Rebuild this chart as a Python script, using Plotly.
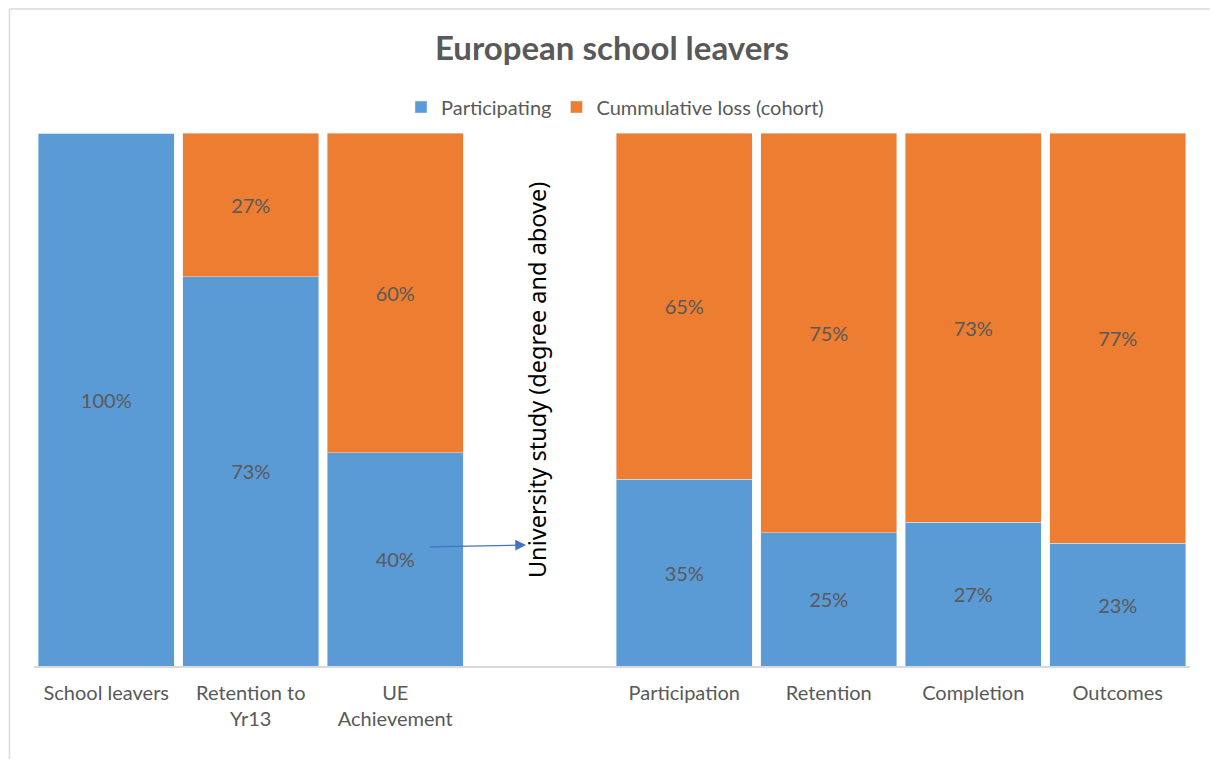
import plotly.graph_objects as go

categories = ["School leavers", "Retention to<br>Yr13", "UE<br>Achievement", "",
              "Participation", "Retention", "Completion", "Outcomes"]
participating = [100, 73, 40, None, 35, 25, 27, 23]
cumulative_loss = [0, 27, 60, None, 65, 75, 73, 77]

xpos = list(range(len(categories)))

def labels(vals):
    return [("" if (v is None or v == 0) else f"{v}%") for v in vals]

BLUE = "#5B9BD5"
ORANGE = "#ED7D31"
GRAY = "#595959"
FONT = "Lato"
FS = 20

OFF = 8  # page body margin offset
W, H = 1218 - 2 * OFF, 767 - 2 * OFF
# screenshot pixel geometry of the plot area
SL, SR, ST, SB = 33.5, 1190.5, 133, 666
L = SL - OFF
R = W - (SR - OFF)
T = ST - OFF
B = H - (SB - OFF)
pw, ph = W - L - R, H - T - B

def px_x(px):
    return (px - OFF - L) / pw

def px_y(py):
    return (H - B - (py - OFF)) / ph

def dx(px):
    return px_x(px) * 8 - 0.5

def dy(py):
    return px_y(py) * 100

fig = go.Figure()
fig.add_trace(go.Bar(
    x=xpos, y=participating, name="Participating", marker_color=BLUE,
    text=labels(participating), textposition="inside", insidetextanchor="middle",
    textfont=dict(color=GRAY, size=FS, family=FONT), textangle=0,
))
fig.add_trace(go.Bar(
    x=xpos, y=cumulative_loss, name="Cummulative loss (cohort)", marker_color=ORANGE,
    text=labels(cumulative_loss), textposition="inside", insidetextanchor="middle",
    textfont=dict(color=GRAY, size=FS, family=FONT), textangle=0,
))

fig.update_layout(
    width=W, height=H,
    barmode="stack", bargap=0.062,
    plot_bgcolor="white", paper_bgcolor="white",
    margin=dict(l=L, r=R, t=T, b=B, autoexpand=False),
    font=dict(family=FONT, color=GRAY, size=FS),
    title=dict(text="<b>European school leavers</b>", x=px_x(612), xref="paper", xanchor="center",
               y=1 - (48 - OFF) / H, yref="container", yanchor="middle",
               font=dict(size=33, color=GRAY, family=FONT)),
    legend=dict(orientation="h", x=px_x(615), xanchor="center", y=px_y(107), yanchor="middle",
                font=dict(size=FS, color=GRAY, family=FONT), itemwidth=30,
                traceorder="normal"),
    xaxis=dict(tickmode="array", tickvals=xpos, ticktext=categories, range=[-0.5, 7.5],
               showline=True, linecolor="#D9D9D9", linewidth=2, showgrid=False,
               ticks="", ticklabelstandoff=8,
               tickfont=dict(size=FS, color=GRAY, family=FONT), zeroline=False),
    yaxis=dict(range=[0, 100], visible=False),
    uniformtext=dict(minsize=FS, mode="show"),
)

# chart-area border (top and left edges visible in the reference)
fig.add_shape(type="line", xref="paper", yref="paper",
              x0=px_x(OFF + 1), y0=px_y(OFF + 1), x1=px_x(OFF + W), y1=px_y(OFF + 1),
              line=dict(color="#D9D9D9", width=1.5), layer="below")
fig.add_shape(type="line", xref="paper", yref="paper",
              x0=px_x(OFF + 1), y0=px_y(OFF + 1), x1=px_x(OFF + 1), y1=px_y(OFF + H),
              line=dict(color="#D9D9D9", width=1.5), layer="below")

fig.add_annotation(x=dx(537), y=dy(380), text="University study (degree and above)",
                   textangle=-90, showarrow=False,
                   font=dict(family="Noto Sans", size=23.5, color="black"))
fig.add_annotation(x=dx(526), y=dy(545), ax=dx(428), ay=dy(547), axref="x", ayref="y",
                   text="", showarrow=True, arrowhead=2, arrowsize=1.8, arrowwidth=1.2,
                   arrowcolor="#4472C4", standoff=0)

fig.write_html("out.html")
